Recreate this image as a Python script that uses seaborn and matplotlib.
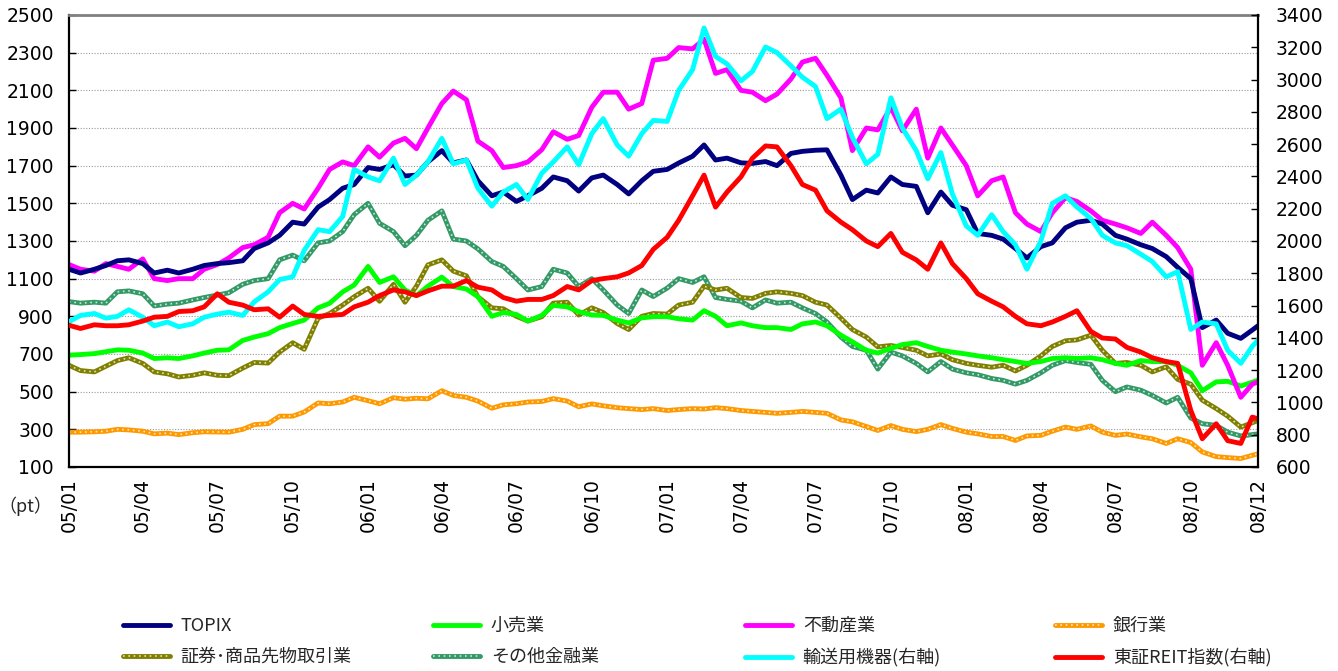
import matplotlib
matplotlib.use("Agg")
import matplotlib.pyplot as plt
from matplotlib.lines import Line2D
import pandas as pd
import seaborn as sns

# ---------------- data ----------------
dates = list(pd.date_range("2005-01-01", "2008-12-15", freq="SMS")) + [pd.Timestamp("2008-12-22")]

topix = [1150, 1130, 1150, 1170, 1195, 1200, 1180, 1130, 1145, 1130, 1150, 1170, 1180, 1185, 1195, 1260, 1290, 1330, 1400, 1390, 1480, 1520, 1580, 1600, 1690,
         1680, 1705, 1645, 1650, 1720, 1780, 1715, 1730, 1620, 1540, 1560, 1510, 1540, 1580, 1640, 1620, 1565, 1635, 1650, 1600, 1550, 1620, 1670, 1680,
         1714, 1750, 1810, 1730, 1740, 1715, 1712, 1722, 1700, 1765, 1776, 1782, 1784, 1650, 1520, 1570, 1555, 1640, 1600, 1590, 1450, 1560, 1490, 1466,
         1340, 1330, 1310, 1260, 1210, 1270, 1290, 1370, 1400, 1410, 1390, 1330, 1310, 1280, 1260, 1217, 1160, 1100, 840, 880, 810, 783, 827, 850]

retail = [694, 697, 702, 712, 722, 720, 705, 676, 680, 676, 690, 705, 720, 722, 772, 790, 808, 840, 862, 880, 945, 969, 1030, 1066, 1165,
          1080, 1110, 1040, 1010, 1060, 1108, 1058, 1045, 1004, 900, 920, 910, 875, 905, 958, 950, 925, 907, 905, 880, 865, 892, 898, 898,
          887, 880, 930, 900, 850, 865, 850, 840, 840, 830, 860, 870, 850, 800, 765, 720, 705, 730, 750, 760, 740, 720, 710, 700,
          690, 680, 670, 660, 650, 660, 676, 680, 676, 680, 670, 650, 640, 665, 660, 660, 640, 600, 505, 552, 555, 530, 550, 561]

realestate = [1175, 1150, 1140, 1180, 1165, 1150, 1205, 1100, 1090, 1100, 1100, 1150, 1175, 1210, 1265, 1280, 1320, 1450, 1500, 1470, 1580, 1680, 1720, 1700, 1800,
              1745, 1820, 1845, 1790, 1900, 2030, 2096, 2050, 1830, 1780, 1690, 1700, 1720, 1785, 1880, 1840, 1860, 2010, 2090, 2090, 2000, 2030, 2260, 2270,
              2327, 2320, 2371, 2190, 2210, 2100, 2090, 2045, 2080, 2160, 2250, 2270, 2180, 2060, 1780, 1900, 1890, 2010, 1885, 2000, 1740, 1900, 1810, 1700,
              1540, 1620, 1640, 1450, 1390, 1350, 1450, 1530, 1510, 1460, 1410, 1390, 1370, 1340, 1400, 1330, 1265, 1150, 640, 760, 640, 470, 540, 552]

bank = [285, 285, 287, 290, 300, 297, 290, 276, 280, 272, 282, 287, 286, 285, 300, 325, 330, 370, 370, 392, 440, 436, 445, 470, 452,
        436, 468, 460, 465, 462, 505, 480, 470, 450, 412, 430, 436, 445, 448, 463, 450, 420, 435, 425, 415, 410, 405, 410, 400,
        405, 410, 408, 415, 410, 400, 395, 390, 385, 390, 395, 390, 385, 350, 340, 315, 294, 320, 300, 288, 300, 325, 305, 285,
        276, 262, 262, 241, 265, 268, 290, 312, 300, 318, 285, 268, 275, 260, 250, 225, 250, 230, 180, 155, 150, 145, 162, 170]

securities = [640, 612, 605, 635, 665, 680, 650, 605, 595, 578, 587, 600, 587, 585, 625, 655, 652, 710, 760, 725, 890, 915, 960, 1004, 1049,
              980, 1070, 975, 1060, 1173, 1200, 1140, 1115, 1004, 945, 940, 900, 875, 898, 970, 975, 907, 945, 920, 862, 830, 900, 915, 912,
              960, 975, 1060, 1040, 1049, 1000, 995, 1022, 1030, 1022, 1010, 975, 960, 890, 830, 790, 738, 745, 735, 720, 690, 700, 670, 650,
              640, 630, 640, 610, 640, 690, 740, 770, 775, 800, 720, 650, 655, 640, 605, 632, 565, 540, 455, 410, 370, 312, 335, 347]

otherfin = [978, 970, 975, 970, 1030, 1035, 1020, 955, 965, 970, 987, 1000, 1013, 1025, 1070, 1090, 1100, 1200, 1225, 1195, 1290, 1300, 1350, 1440, 1500,
            1394, 1350, 1275, 1330, 1410, 1460, 1310, 1300, 1258, 1191, 1165, 1100, 1040, 1058, 1150, 1130, 1058, 1100, 1040, 960, 915, 1040, 1005, 1050,
            1100, 1080, 1110, 1000, 990, 980, 945, 987, 970, 975, 945, 915, 870, 790, 740, 720, 620, 710, 690, 650, 605, 660, 620, 600,
            590, 570, 560, 540, 560, 600, 640, 665, 655, 645, 560, 500, 525, 508, 480, 440, 470, 360, 330, 321, 285, 265, 272, 276]

transport = [1500, 1539, 1551, 1522, 1533, 1574, 1528, 1475, 1498, 1469, 1487, 1528, 1547, 1559, 1539, 1623, 1685, 1761, 1778, 1942, 2070, 2058, 2152, 2443, 2397,
             2373, 2513, 2350, 2408, 2490, 2636, 2478, 2502, 2327, 2216, 2303, 2350, 2257, 2420, 2490, 2583, 2472, 2665, 2758, 2595, 2525, 2665, 2747, 2741,
             2933, 3062, 3320, 3143, 3097, 2992, 3050, 3202, 3167, 3085, 3015, 2957, 2758, 2817, 2642, 2478, 2537, 2887, 2700, 2560, 2385, 2548, 2292, 2093,
             2035, 2163, 2058, 1977, 1825, 2000, 2233, 2280, 2210, 2140, 2035, 1988, 1971, 1918, 1873, 1778, 1810, 1452, 1498, 1487, 1323, 1242, 1347, 1386]

reit = [1478, 1458, 1481, 1475, 1475, 1481, 1504, 1528, 1533, 1563, 1568, 1592, 1673, 1621, 1603, 1574, 1580, 1528, 1597, 1545, 1533, 1539, 1545, 1592, 1621,
        1662, 1697, 1685, 1662, 1691, 1720, 1720, 1755, 1714, 1697, 1650, 1627, 1638, 1638, 1662, 1718, 1697, 1755, 1767, 1778, 1802, 1848, 1948, 2023,
        2128, 2280, 2408, 2210, 2303, 2397, 2513, 2589, 2583, 2467, 2350, 2315, 2187, 2117, 2070, 2000, 1965, 2047, 1930, 1883, 1825, 1988, 1860, 1767,
        1673, 1627, 1592, 1533, 1487, 1475, 1498, 1533, 1568, 1440, 1399, 1393, 1341, 1312, 1277, 1253, 1242, 950, 775, 868, 763, 746, 909, 899]

tick_dates = ["2005-01-01", "2005-04-01", "2005-07-01", "2005-10-01", "2006-01-01", "2006-04-01",
              "2006-07-01", "2006-10-01", "2007-01-01", "2007-04-01", "2007-07-01", "2007-10-01",
              "2008-01-01", "2008-04-01", "2008-07-01", "2008-10-01", "2008-12-22"]
tick_labels = ["05/01", "05/04", "05/07", "05/10", "06/01", "06/04", "06/07", "06/10",
               "07/01", "07/04", "07/07", "07/10", "08/01", "08/04", "08/07", "08/10", "08/12"]

left_ticks = list(range(100, 2501, 200))
right_ticks = list(range(600, 3401, 200))

# ---------------- style ----------------
sns.set_theme(style="white")
plt.rcParams["font.family"] = ["Noto Sans CJK JP", "DejaVu Sans"]
TICKFONT = ["DejaVu Sans"]
TICKSIZE = 13.5

NAVY, LIME, MAGENTA, ORANGE = "#000080", "#00FF00", "#FF00FF", "#FF9900"
OLIVE, TEAL, CYAN, RED = "#808000", "#339966", "#00FFFF", "#FF0000"
LW = 3.5
DOT = dict(color="white", lw=1.2, alpha=0.75, linestyle=(0, (1, 2.2)))

fig = plt.figure(figsize=(13.38, 6.71), dpi=100)
ax = fig.add_axes([69 / 1338, 1 - 467 / 671, 1189 / 1338, 452 / 671])
ax2 = ax.twinx()


def draw(a, y, color, dotted=False):
    sns.lineplot(x=dates, y=y, ax=a, color=color, lw=LW, legend=False,
                 solid_joinstyle="round", solid_capstyle="round")
    if dotted:
        sns.lineplot(x=dates, y=y, ax=a, legend=False, **DOT)


draw(ax, otherfin, TEAL, True)
draw(ax, securities, OLIVE, True)
draw(ax, bank, ORANGE, True)
draw(ax, retail, LIME)
draw(ax, realestate, MAGENTA)
draw(ax, topix, NAVY)
draw(ax2, transport, CYAN)
draw(ax2, reit, RED)

ax.set_xlim(dates[0], dates[-1])
ax.set_ylim(100, 2500)
ax2.set_ylim(600, 3400)
ax.set_yticks(left_ticks)
ax.set_yticklabels([str(v) for v in left_ticks], family=TICKFONT, fontsize=TICKSIZE)
ax2.set_yticks(right_ticks)
ax2.set_yticklabels([str(v) for v in right_ticks], family=TICKFONT, fontsize=TICKSIZE)
ax.set_xticks(pd.to_datetime(tick_dates))
ax.set_xticklabels(tick_labels, rotation=90, family=TICKFONT, fontsize=TICKSIZE)
ax.set_xlabel("")
ax.set_ylabel("")
ax2.set_ylabel("")

ax.grid(axis="y", linestyle=(0, (1, 1.5)), color="#9a9a9a", lw=0.8)
ax.grid(axis="x", visible=False)
ax2.grid(False)
ax.set_axisbelow(True)

ax.tick_params(axis="y", direction="in", length=5, width=1, pad=11, colors="black")
ax.tick_params(axis="x", direction="in", length=5, width=1, pad=8, colors="black")
ax2.tick_params(axis="y", direction="in", length=5, width=1, pad=13, colors="black")

for s in ["left", "bottom"]:
    ax.spines[s].set_color("black")
    ax.spines[s].set_linewidth(1.6)
ax.spines["right"].set_visible(False)
ax.spines["top"].set_color("#808080")
ax.spines["top"].set_linewidth(2)
for s in ["left", "bottom", "top"]:
    ax2.spines[s].set_visible(False)
ax2.spines["right"].set_color("black")
ax2.spines["right"].set_linewidth(1.6)

fig.text(25 / 1338, 1 - 506 / 671, "（pt）", ha="center", va="center", fontsize=13)

# ---------------- legend (4 fixed columns, 2 rows) ----------------
legend_cols = [
    (123, [("TOPIX", NAVY, False), ("証券･商品先物取引業", OLIVE, True)]),
    (433, [("小売業", LIME, False), ("その他金融業", TEAL, True)]),
    (745, [("不動産業", MAGENTA, False), ("輸送用機器(右軸)", CYAN, False)]),
    (1055, [("銀行業", ORANGE, True), ("東証REIT指数(右軸)", RED, False)]),
]
for x0, entries in legend_cols:
    handles, labels = [], []
    for lab, col, dotted in entries:
        h = Line2D([], [], color=col, lw=LW, solid_capstyle="round")
        if dotted:
            h = (h, Line2D([], [], **DOT))
        handles.append(h)
        labels.append(lab)
    fig.legend(handles, labels, loc="upper left", bbox_to_anchor=(x0 / 1338, 1 - 617 / 671),
               frameon=False, fontsize=13, handlelength=2.6, handletextpad=0.6,
               labelspacing=0.72, borderpad=0, borderaxespad=0)

fig.savefig("out.png", dpi=100)
